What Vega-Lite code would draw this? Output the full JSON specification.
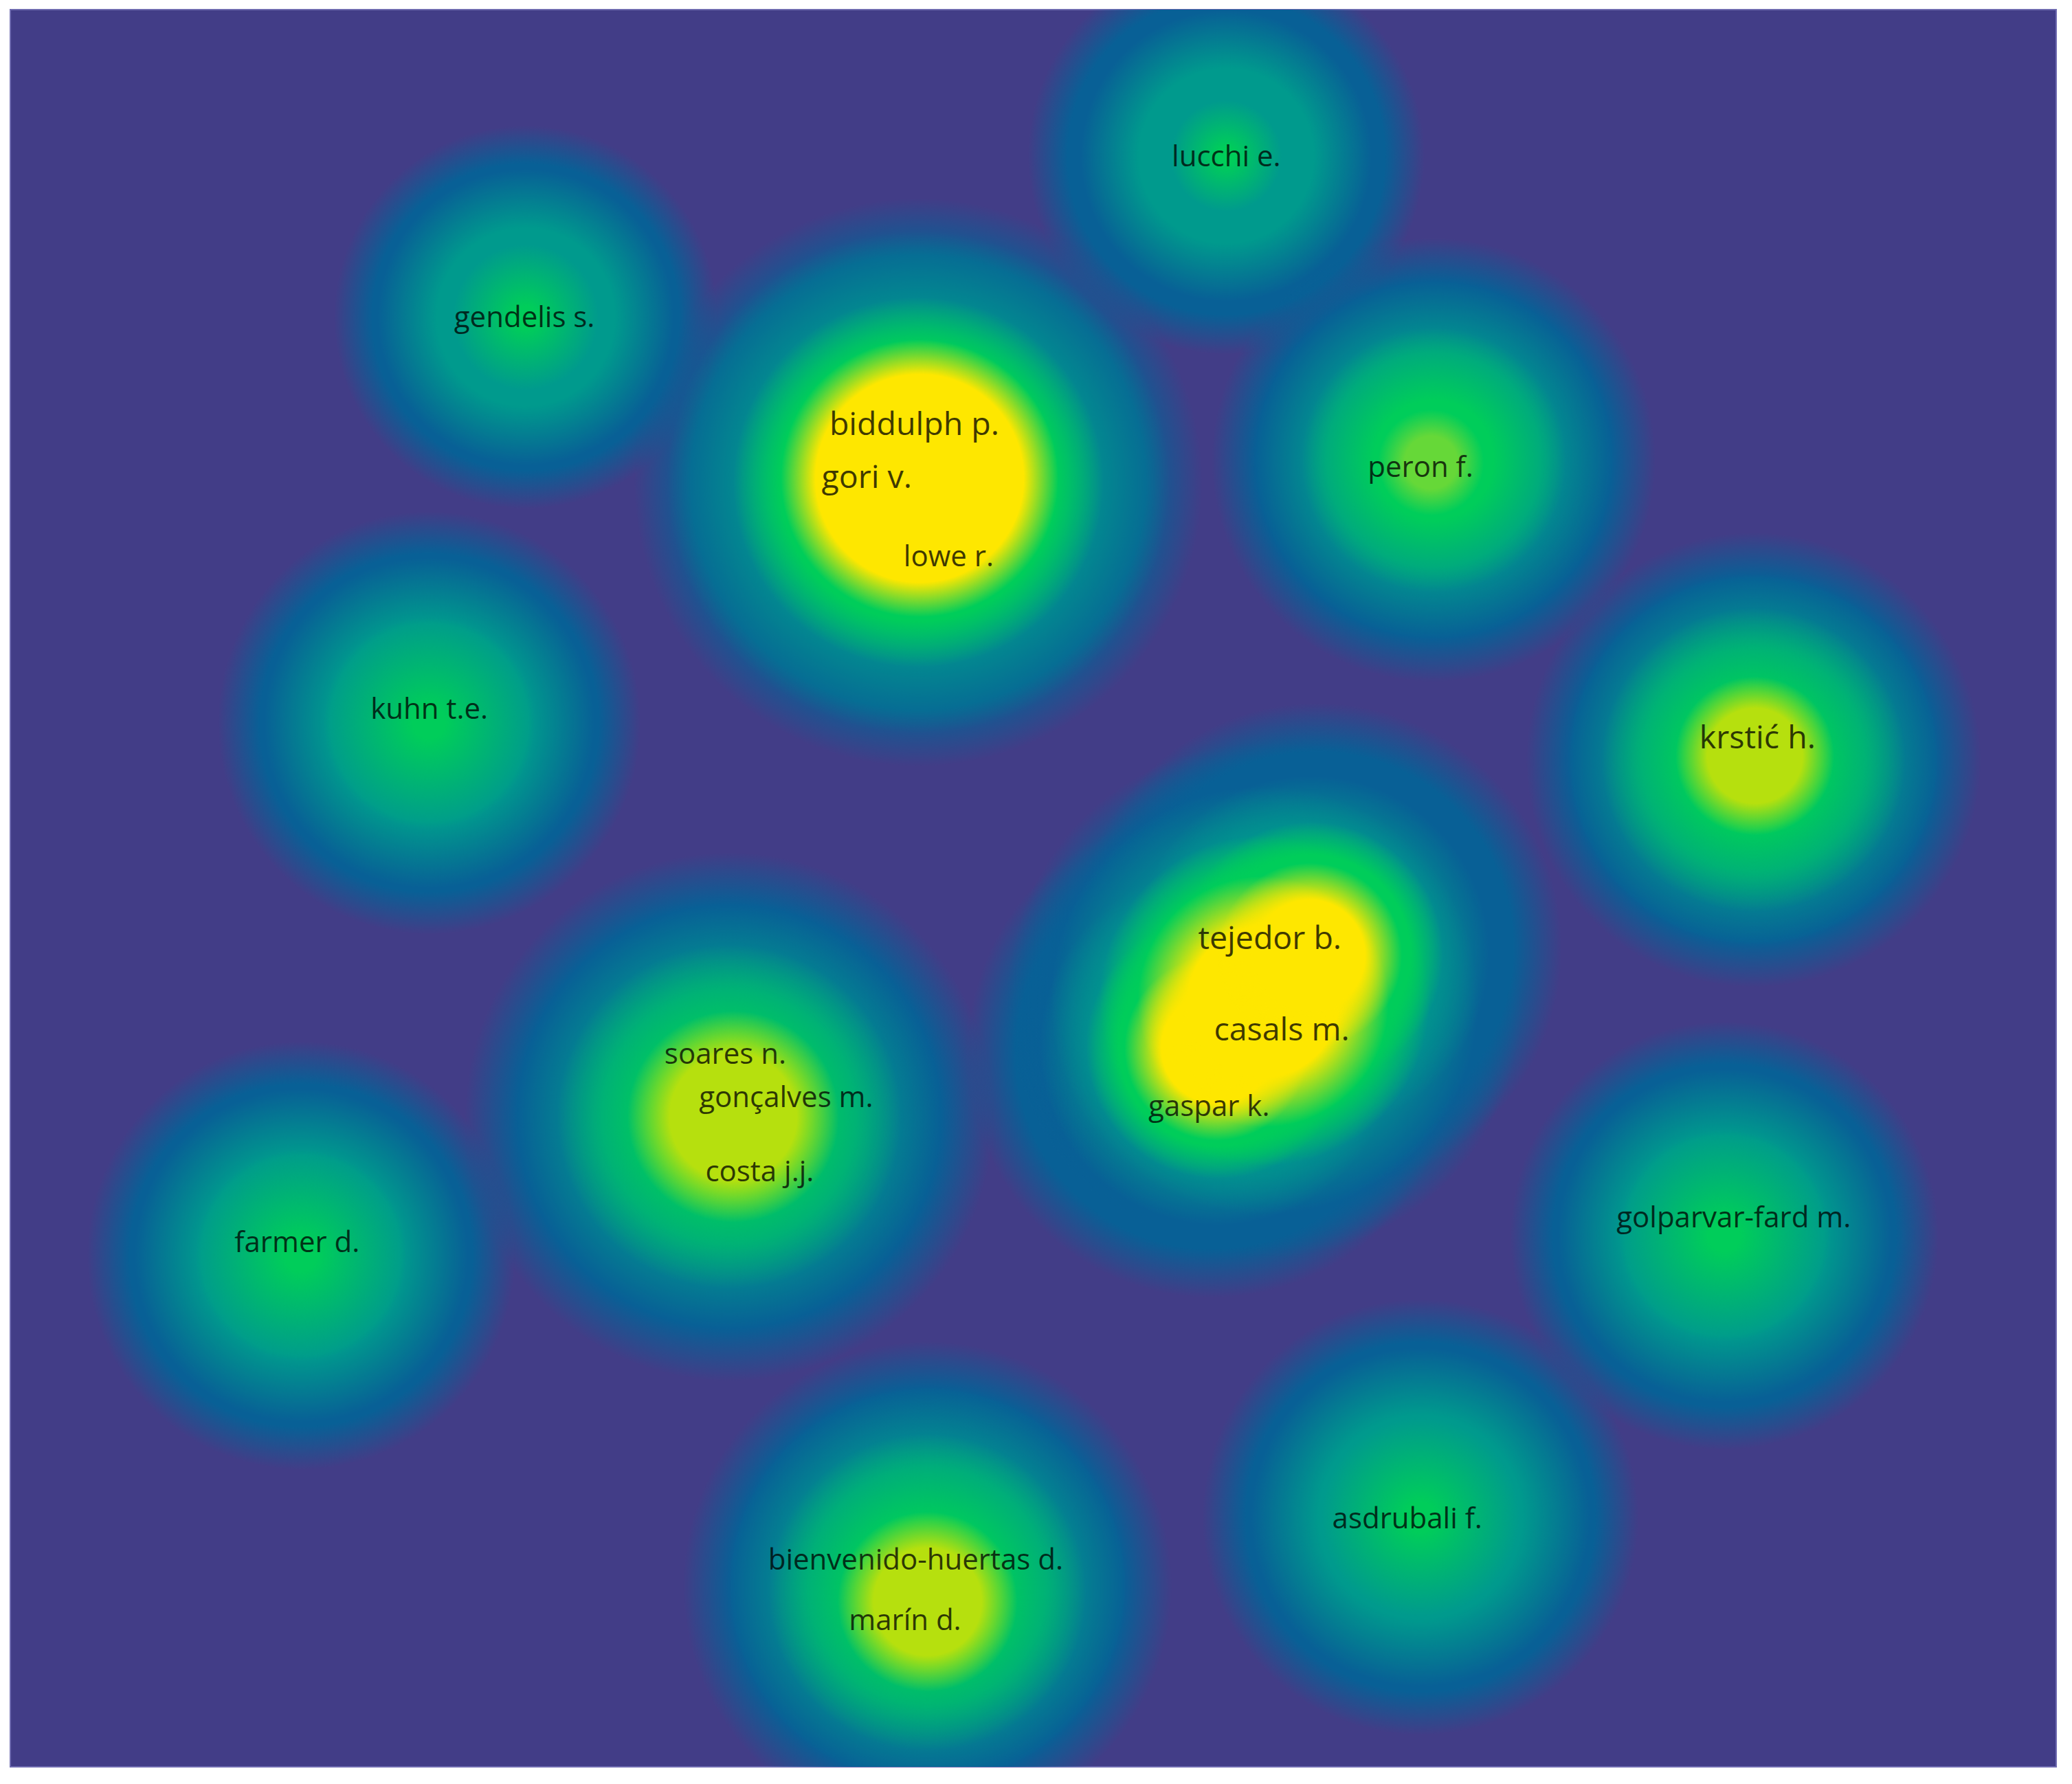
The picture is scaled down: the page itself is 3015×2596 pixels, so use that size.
{
  "$schema": "https://vega.github.io/schema/vega-lite/v6.json",
  "width": 3015,
  "height": 2596,
  "autosize": {"type": "fit", "contains": "padding"},
  "padding": {"left": 15, "top": 14, "right": 23, "bottom": 25},
  "background": "#ffffff",
  "config": {"view": {"fill": "#423d87", "stroke": "#6f6bb0", "strokeWidth": 2}},
  "datasets": {
    "blobs": [
      {"cluster": "lucchi", "level": "blue", "x": 928, "y": 118, "r": 150},
      {"cluster": "lucchi", "level": "teal", "x": 928, "y": 118, "r": 110},
      {"cluster": "lucchi", "level": "greenpeak", "x": 928, "y": 118, "r": 42},
      {"cluster": "gendelis", "level": "blue", "x": 398, "y": 240, "r": 145},
      {"cluster": "gendelis", "level": "teal", "x": 398, "y": 240, "r": 112},
      {"cluster": "gendelis", "level": "greenpeak", "x": 398, "y": 240, "r": 55},
      {"cluster": "biddulph", "level": "blue", "x": 695, "y": 365, "r": 215},
      {"cluster": "biddulph", "level": "teal", "x": 695, "y": 365, "r": 190},
      {"cluster": "biddulph", "level": "green", "x": 695, "y": 365, "r": 140},
      {"cluster": "biddulph", "level": "yellow", "x": 696, "y": 362, "r": 105},
      {"cluster": "peron", "level": "blue", "x": 1085, "y": 348, "r": 168},
      {"cluster": "peron", "level": "teal", "x": 1085, "y": 348, "r": 135},
      {"cluster": "peron", "level": "greenmid", "x": 1085, "y": 348, "r": 100},
      {"cluster": "peron", "level": "lightgreen", "x": 1083, "y": 350, "r": 40},
      {"cluster": "kuhn", "level": "blue", "x": 325, "y": 547, "r": 160},
      {"cluster": "kuhn", "level": "teal", "x": 325, "y": 547, "r": 125},
      {"cluster": "kuhn", "level": "greenpeak", "x": 325, "y": 547, "r": 80},
      {"cluster": "krstic", "level": "blue", "x": 1327, "y": 575, "r": 172},
      {"cluster": "krstic", "level": "teal", "x": 1327, "y": 575, "r": 140},
      {"cluster": "krstic", "level": "greenmid", "x": 1327, "y": 575, "r": 115},
      {"cluster": "krstic", "level": "lime", "x": 1328, "y": 572, "r": 60},
      {"cluster": "tejedor", "level": "blue", "x": 917, "y": 797, "r": 185},
      {"cluster": "tejedor", "level": "blue", "x": 957, "y": 757, "r": 195},
      {"cluster": "tejedor", "level": "blue", "x": 997, "y": 717, "r": 185},
      {"cluster": "tejedor", "level": "teal", "x": 922, "y": 792, "r": 135},
      {"cluster": "tejedor", "level": "teal", "x": 957, "y": 757, "r": 162},
      {"cluster": "tejedor", "level": "teal", "x": 992, "y": 722, "r": 135},
      {"cluster": "tejedor", "level": "green", "x": 922, "y": 792, "r": 100},
      {"cluster": "tejedor", "level": "green", "x": 957, "y": 757, "r": 125},
      {"cluster": "tejedor", "level": "green", "x": 992, "y": 722, "r": 100},
      {"cluster": "tejedor", "level": "yellowsoft", "x": 921, "y": 793, "r": 70},
      {"cluster": "tejedor", "level": "yellowsoft", "x": 956, "y": 758, "r": 95},
      {"cluster": "tejedor", "level": "yellowsoft", "x": 991, "y": 723, "r": 70},
      {"cluster": "soares", "level": "blue", "x": 552, "y": 845, "r": 200},
      {"cluster": "soares", "level": "teal", "x": 552, "y": 845, "r": 160},
      {"cluster": "soares", "level": "greenmid", "x": 552, "y": 845, "r": 130},
      {"cluster": "soares", "level": "lime", "x": 555, "y": 845, "r": 80},
      {"cluster": "farmer", "level": "blue", "x": 228, "y": 950, "r": 162},
      {"cluster": "farmer", "level": "teal", "x": 228, "y": 950, "r": 126},
      {"cluster": "farmer", "level": "greenpeak", "x": 228, "y": 950, "r": 80},
      {"cluster": "golparvar", "level": "blue", "x": 1305, "y": 935, "r": 162},
      {"cluster": "golparvar", "level": "teal", "x": 1305, "y": 935, "r": 126},
      {"cluster": "golparvar", "level": "greenpeak", "x": 1305, "y": 935, "r": 80},
      {"cluster": "asdrubali", "level": "blue", "x": 1075, "y": 1148, "r": 165},
      {"cluster": "asdrubali", "level": "teal", "x": 1075, "y": 1148, "r": 128},
      {"cluster": "asdrubali", "level": "greenpeak", "x": 1075, "y": 1148, "r": 75},
      {"cluster": "bienvenido", "level": "blue", "x": 702, "y": 1200, "r": 185},
      {"cluster": "bienvenido", "level": "teal", "x": 702, "y": 1200, "r": 150},
      {"cluster": "bienvenido", "level": "greenmid", "x": 702, "y": 1205, "r": 120},
      {"cluster": "bienvenido", "level": "lime", "x": 702, "y": 1212, "r": 68}
    ],
    "labels": [
      {"label": "lucchi e.", "x": 928, "y": 119, "weight": 1},
      {"label": "gendelis s.", "x": 397, "y": 241, "weight": 1},
      {"label": "biddulph p.", "x": 692, "y": 322, "weight": 2},
      {"label": "gori v.", "x": 656, "y": 362, "weight": 2},
      {"label": "lowe r.", "x": 718, "y": 422, "weight": 1},
      {"label": "peron f.", "x": 1075, "y": 354, "weight": 1},
      {"label": "kuhn t.e.", "x": 325, "y": 537, "weight": 1},
      {"label": "krstić h.", "x": 1330, "y": 559, "weight": 2},
      {"label": "tejedor b.", "x": 961, "y": 711, "weight": 2},
      {"label": "casals m.", "x": 970, "y": 780, "weight": 2},
      {"label": "gaspar k.", "x": 915, "y": 838, "weight": 1},
      {"label": "soares n.", "x": 549, "y": 798, "weight": 1},
      {"label": "gonçalves m.", "x": 595, "y": 831, "weight": 1},
      {"label": "costa j.j.", "x": 575, "y": 887, "weight": 1},
      {"label": "farmer d.", "x": 225, "y": 941, "weight": 1},
      {"label": "golparvar-fard m.", "x": 1312, "y": 922, "weight": 1},
      {"label": "asdrubali f.", "x": 1065, "y": 1150, "weight": 1},
      {"label": "bienvenido-huertas d.", "x": 693, "y": 1181, "weight": 1},
      {"label": "marín d.", "x": 685, "y": 1227, "weight": 1}
    ]
  },
  "encoding": {
    "x": {"field": "x", "type": "quantitative", "scale": {"domain": [8, 1556], "nice": false, "zero": false}, "axis": null},
    "y": {"field": "y", "type": "quantitative", "scale": {"domain": [7.3, 1337], "nice": false, "zero": false, "reverse": true}, "axis": null}
  },
  "layer": [
    {
      "data": {"name": "blobs"},
      "transform": [{"filter": {"field": "level", "equal": "blue"}}],
      "mark": {"type": "point", "shape": "circle", "filled": true, "opacity": 1, "strokeWidth": 0, "clip": true,
        "fill": {"gradient": "radial", "x1": 0.5, "y1": 0.5, "r1": 0, "x2": 0.5, "y2": 0.5, "r2": 0.5,
          "stops": [{"offset": 0, "color": "#086096"}, {"offset": 0.8, "color": "#086096"}, {"offset": 1, "color": "rgba(8,96,150,0)"}]}},
      "encoding": {"size": {"field": "r", "type": "quantitative", "scale": {"type": "pow", "exponent": 2, "domain": [0, 250], "range": [0, 924578]}, "legend": null}}
    },
    {
      "data": {"name": "blobs"},
      "transform": [{"filter": {"field": "level", "equal": "teal"}}],
      "mark": {"type": "point", "shape": "circle", "filled": true, "opacity": 1, "strokeWidth": 0, "clip": true,
        "fill": {"gradient": "radial", "x1": 0.5, "y1": 0.5, "r1": 0, "x2": 0.5, "y2": 0.5, "r2": 0.5,
          "stops": [{"offset": 0, "color": "#009a8d"}, {"offset": 0.6, "color": "#009a8d"}, {"offset": 1, "color": "rgba(0,154,141,0)"}]}},
      "encoding": {"size": {"field": "r", "type": "quantitative", "scale": {"type": "pow", "exponent": 2, "domain": [0, 250], "range": [0, 924578]}, "legend": null}}
    },
    {
      "data": {"name": "blobs"},
      "transform": [{"filter": {"field": "level", "equal": "green"}}],
      "mark": {"type": "point", "shape": "circle", "filled": true, "opacity": 1, "strokeWidth": 0, "clip": true,
        "fill": {"gradient": "radial", "x1": 0.5, "y1": 0.5, "r1": 0, "x2": 0.5, "y2": 0.5, "r2": 0.5,
          "stops": [{"offset": 0, "color": "#00cd5a"}, {"offset": 0.75, "color": "#00cd5a"}, {"offset": 1, "color": "rgba(0,205,90,0)"}]}},
      "encoding": {"size": {"field": "r", "type": "quantitative", "scale": {"type": "pow", "exponent": 2, "domain": [0, 250], "range": [0, 924578]}, "legend": null}}
    },
    {
      "data": {"name": "blobs"},
      "transform": [{"filter": {"field": "level", "equal": "greenmid"}}],
      "mark": {"type": "point", "shape": "circle", "filled": true, "opacity": 1, "strokeWidth": 0, "clip": true,
        "fill": {"gradient": "radial", "x1": 0.5, "y1": 0.5, "r1": 0, "x2": 0.5, "y2": 0.5, "r2": 0.5,
          "stops": [{"offset": 0, "color": "#00cd5a"}, {"offset": 0.45, "color": "#00cd5a"}, {"offset": 1, "color": "rgba(0,205,90,0)"}]}},
      "encoding": {"size": {"field": "r", "type": "quantitative", "scale": {"type": "pow", "exponent": 2, "domain": [0, 250], "range": [0, 924578]}, "legend": null}}
    },
    {
      "data": {"name": "blobs"},
      "transform": [{"filter": {"field": "level", "equal": "greenpeak"}}],
      "mark": {"type": "point", "shape": "circle", "filled": true, "opacity": 1, "strokeWidth": 0, "clip": true,
        "fill": {"gradient": "radial", "x1": 0.5, "y1": 0.5, "r1": 0, "x2": 0.5, "y2": 0.5, "r2": 0.5,
          "stops": [{"offset": 0, "color": "#00cd5a"}, {"offset": 0.15, "color": "#00cd5a"}, {"offset": 1, "color": "rgba(0,205,90,0)"}]}},
      "encoding": {"size": {"field": "r", "type": "quantitative", "scale": {"type": "pow", "exponent": 2, "domain": [0, 250], "range": [0, 924578]}, "legend": null}}
    },
    {
      "data": {"name": "blobs"},
      "transform": [{"filter": {"field": "level", "equal": "lightgreen"}}],
      "mark": {"type": "point", "shape": "circle", "filled": true, "opacity": 1, "strokeWidth": 0, "clip": true,
        "fill": {"gradient": "radial", "x1": 0.5, "y1": 0.5, "r1": 0, "x2": 0.5, "y2": 0.5, "r2": 0.5,
          "stops": [{"offset": 0, "color": "#66d838"}, {"offset": 0.5, "color": "#66d838"}, {"offset": 1, "color": "rgba(102,216,56,0)"}]}},
      "encoding": {"size": {"field": "r", "type": "quantitative", "scale": {"type": "pow", "exponent": 2, "domain": [0, 250], "range": [0, 924578]}, "legend": null}}
    },
    {
      "data": {"name": "blobs"},
      "transform": [{"filter": {"field": "level", "equal": "lime"}}],
      "mark": {"type": "point", "shape": "circle", "filled": true, "opacity": 1, "strokeWidth": 0, "clip": true,
        "fill": {"gradient": "radial", "x1": 0.5, "y1": 0.5, "r1": 0, "x2": 0.5, "y2": 0.5, "r2": 0.5,
          "stops": [{"offset": 0, "color": "#b6e00e"}, {"offset": 0.6, "color": "#b6e00e"}, {"offset": 1, "color": "rgba(182,224,14,0)"}]}},
      "encoding": {"size": {"field": "r", "type": "quantitative", "scale": {"type": "pow", "exponent": 2, "domain": [0, 250], "range": [0, 924578]}, "legend": null}}
    },
    {
      "data": {"name": "blobs"},
      "transform": [{"filter": {"field": "level", "equal": "yellow"}}],
      "mark": {"type": "point", "shape": "circle", "filled": true, "opacity": 1, "strokeWidth": 0, "clip": true,
        "fill": {"gradient": "radial", "x1": 0.5, "y1": 0.5, "r1": 0, "x2": 0.5, "y2": 0.5, "r2": 0.5,
          "stops": [{"offset": 0, "color": "#fee700"}, {"offset": 0.75, "color": "#fee700"}, {"offset": 1, "color": "rgba(254,231,0,0)"}]}},
      "encoding": {"size": {"field": "r", "type": "quantitative", "scale": {"type": "pow", "exponent": 2, "domain": [0, 250], "range": [0, 924578]}, "legend": null}}
    },
    {
      "data": {"name": "blobs"},
      "transform": [{"filter": {"field": "level", "equal": "yellowsoft"}}],
      "mark": {"type": "point", "shape": "circle", "filled": true, "opacity": 1, "strokeWidth": 0, "clip": true,
        "fill": {"gradient": "radial", "x1": 0.5, "y1": 0.5, "r1": 0, "x2": 0.5, "y2": 0.5, "r2": 0.5,
          "stops": [{"offset": 0, "color": "#fee700"}, {"offset": 0.6, "color": "#fee700"}, {"offset": 1, "color": "rgba(254,231,0,0)"}]}},
      "encoding": {"size": {"field": "r", "type": "quantitative", "scale": {"type": "pow", "exponent": 2, "domain": [0, 250], "range": [0, 924578]}, "legend": null}}
    },
    {
      "data": {"name": "labels"},
      "mark": {"type": "text", "font": "Open Sans", "fill": "#000000", "opacity": 0.75, "align": "center", "baseline": "middle", "clip": true},
      "encoding": {
        "text": {"field": "label", "type": "nominal"},
        "size": {"field": "weight", "type": "quantitative", "scale": {"domain": [1, 2], "range": [42, 46.5]}, "legend": null}
      }
    }
  ],
  "resolve": {"scale": {"size": "independent"}}
}
